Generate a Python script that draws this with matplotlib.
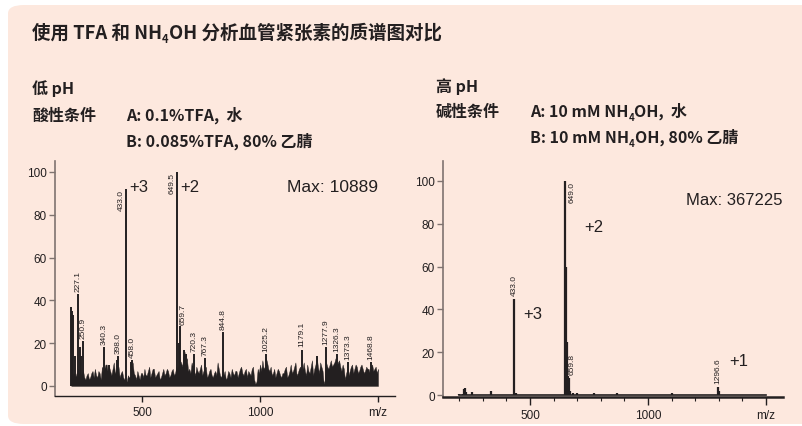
import numpy as np
import matplotlib
matplotlib.use("Agg")
import matplotlib.pyplot as plt
from matplotlib.patches import FancyBboxPatch

plt.rcParams['font.family'] = ['Liberation Sans', 'Noto Sans CJK SC', 'DejaVu Sans']
HEAD_FONT = ['Noto Sans CJK SC', 'DejaVu Sans']

# ── data ──────────────────────────────────────────────────────────────────
# low pH: noise floor read every 10 m/z (200..1500) and in between (205..1495)
low_noise_mz = np.arange(200, 1501, 10)
low_noise = [
    4, 6, 5, 8, 5, 7, 3, 6, 4, 7,          # 200-290
    8, 4, 6, 9, 8, 10, 9, 5, 11, 7,        # 300-390
    9, 6, 4, 3, 5, 4, 11, 5, 7, 3,         # 400-490
    6, 8, 5, 9, 6, 8, 5, 7, 4, 8,          # 500-590
    6, 7, 5, 8, 6, 7, 12, 9, 16, 13,       # 600-690
    8, 11, 7, 9, 6, 10, 7, 9, 5, 8,        # 700-790
    4, 7, 11, 5, 6, 7, 4, 6, 8, 5,         # 800-890
    7, 6, 9, 5, 8, 7, 5, 9, 1, 8,          # 900-990
    10, 12, 9, 11, 7, 5, 8, 6, 7, 4,       # 1000-1090
    6, 9, 5, 10, 7, 11, 6, 9, 8, 7,        # 1100-1190
    10, 6, 12, 8, 14, 6, 9, 1, 11, 8,      # 1200-1290
    12, 10, 13, 11, 9, 10, 3, 8, 7, 10,    # 1300-1390
    8, 9, 7, 10, 6, 9, 8, 9, 7, 9,         # 1400-1490
    8,                                     # 1500
]
low_noise_mid_mz = np.arange(205, 1500, 10)
low_noise_mid = [
    3, 4, 7, 3, 6, 4, 5, 3, 6, 4,          # 205-295
    5, 7, 3, 6, 10, 6, 7, 8, 6, 5,         # 305-395
    4, 7, 3, 2, 4, 7, 6, 3, 5, 6,          # 405-495
    4, 5, 7, 4, 8, 4, 6, 3, 6, 5,          # 505-595
    8, 4, 7, 5, 9, 10, 11, 14, 10, 7,      # 605-695
    6, 9, 5, 7, 8, 5, 6, 4, 7, 5,          # 705-795
    6, 5, 8, 4, 5, 3, 7, 4, 6, 7,          # 805-895
    4, 8, 6, 7, 4, 6, 8, 3, 2, 6,          # 905-995
    7, 8, 13, 8, 9, 6, 4, 8, 5, 6,         # 1005-1095
    8, 4, 7, 6, 9, 5, 8, 7, 11, 5,         # 1105-1195
    7, 9, 5, 10, 9, 11, 7, 3, 9, 10,       # 1205-1295
    9, 11, 9, 12, 7, 8, 6, 5, 9, 6,        # 1305-1395
    10, 6, 9, 8, 7, 8, 6, 10, 8, 6,        # 1405-1495
]
low_peak_mz = [199, 203, 207, 215, 227.1, 236, 243, 250.9, 340.3, 360, 392, 398.0,
               433.0, 452, 458.0, 649.5, 655, 659.7, 677, 688, 720.3, 767.3,
               844.8, 1025.2, 1179.1, 1240, 1277.9, 1326.3, 1373.3, 1468.8]
low_peak_int = [37, 35, 33, 14, 43, 18, 14, 21, 18, 10, 12, 14,
                92, 11, 12, 100, 20, 28, 17, 15, 15, 13,
                25, 15, 17, 14, 18, 15, 11, 11]
low_labels_top = ['227.1', '250.9', '340.3', '398.0', '458.0', '659.7', '720.3', '767.3',
                  '844.8', '1025.2', '1179.1', '1277.9', '1326.3', '1373.3', '1468.8']
low_labels_side = ['433.0', '649.5']

high_mz = [200, 215, 222, 226, 230, 255, 335, 433.0, 440, 649.0, 652, 655,
           659.8, 663, 668, 680, 700, 770, 870, 1100, 1296.6, 1300]
high_int = [0.4, 0.6, 2.8, 3.2, 1.5, 1.3, 1.8, 45, 1.2, 100, 60, 25,
            9, 8, 2, 1.2, 0.8, 0.9, 0.8, 0.9, 4, 2]
high_labels = ['433.0', '649.0', '659.8', '1296.6']

y_ticks = [0, 20, 40, 60, 80, 100]
x_ticks = [500, 1000, 1500]
x_ticklabels = ['500', '1000', 'm/z']

INK = '#231f20'
BG = '#fde8de'
W, H = 802, 427

fig = plt.figure(figsize=(8.02, 4.27), dpi=100)
fig.patch.set_facecolor('white')
fig.patches.append(FancyBboxPatch((8 / W, 2 / H), 820 / W, 419 / H,
                                  boxstyle='round,pad=0,rounding_size=0.02',
                                  transform=fig.transFigure, facecolor=BG,
                                  edgecolor='none', zorder=-5))


def runs(x, y, parts):
    """Write text pieces one after another (x, y in pixels from top-left)."""
    r = fig.canvas.get_renderer()
    xf = x / W
    for s, fs, dy in parts:
        t = fig.text(xf, 1 - (y + dy) / H, s, fontsize=fs, va='baseline',
                     ha='left', color=INK, fontweight='bold', family=HEAD_FONT)
        xf += t.get_window_extent(r).width / fig.bbox.width


runs(32, 39, [('使用 TFA 和 NH', 13.3, 0), ('4', 8, 4), ('OH 分析血管紧张素的质谱图对比', 13.3, 0)])
runs(32, 94, [('低 pH', 11.5, 0)])
runs(32, 121, [('酸性条件', 11.5, 0)])
runs(126, 121, [('A: 0.1%TFA,  水', 11.5, 0)])
runs(126, 147, [('B: 0.085%TFA, 80% 乙腈', 11.5, 0)])
runs(436, 92, [('高 pH', 11.5, 0)])
runs(436, 117, [('碱性条件', 11.5, 0)])
runs(530, 117, [('A: 10 mM NH', 11.5, 0), ('4', 7, 4), ('OH,  水', 11.5, 0)])
runs(530, 143, [('B: 10 mM NH', 11.5, 0), ('4', 7, 4), ('OH, 80% 乙腈', 11.5, 0)])


def style(ax, ylim, xlw):
    ax.set_facecolor('none')
    ax.set_xlim(131, 1572)
    ax.set_ylim(*ylim)
    for s in ('top', 'right'):
        ax.spines[s].set_visible(False)
    ax.spines['left'].set_color('#7f7370')
    ax.spines['left'].set_linewidth(1.2)
    ax.spines['bottom'].set_color(INK)
    ax.spines['bottom'].set_linewidth(xlw)
    ax.set_yticks(y_ticks)
    ax.set_xticks(x_ticks)
    ax.set_xticklabels(x_ticklabels)
    ax.tick_params(axis='y', length=4, width=1, color='#7f7370', pad=2,
                   labelsize=8.5, labelcolor=INK)
    ax.tick_params(axis='x', length=4, width=1, color=INK, pad=3,
                   labelsize=8.5, labelcolor=INK)


# ── low pH panel ─────────────────────────────────────────────────────────
ax1 = fig.add_axes([55 / W, 1 - 397 / H, 340 / W, 235 / H])
style(ax1, (-4.7, 105.1), 1.0)
noise_x = np.concatenate([low_noise_mz, low_noise_mid_mz])
noise_y = np.concatenate([low_noise, low_noise_mid])
order = np.argsort(noise_x)
ax1.fill_between(noise_x[order], 0, noise_y[order], color=INK, linewidth=0.3)
ax1.vlines(low_peak_mz, 0, low_peak_int, color=INK, linewidth=1.4)
for mz, v in zip(low_peak_mz, low_peak_int):
    lab = f'{mz:.1f}'
    if lab == '659.7':
        ax1.text(mz + 16, v + 1, lab, rotation=90, ha='center', va='bottom',
                 fontsize=6, color=INK)
    elif lab in low_labels_top:
        ax1.text(mz, v + 1.5, lab, rotation=90, ha='center', va='bottom',
                 fontsize=6, color=INK)
    elif lab in low_labels_side:
        ax1.text(mz - 8, v, lab, rotation=90, ha='right', va='top',
                 fontsize=6, color=INK)
ax1.text(445, 93, '+3', fontsize=12, va='center', ha='left', color=INK)
ax1.text(662, 93, '+2', fontsize=12, va='center', ha='left', color=INK)
ax1.text(1500, 93, 'Max: 10889', fontsize=12.5, va='center', ha='right', color=INK)

# ── high pH panel ────────────────────────────────────────────────────────
ax2 = fig.add_axes([443 / W, 1 - 398 / H, 340 / W, 236 / H])
style(ax2, (-0.9, 109.3), 1.8)
ax2.set_xticks(range(200, 1500, 100), minor=True)
ax2.tick_params(axis='x', which='major', length=6)
ax2.tick_params(axis='x', which='minor', length=3, width=0.8, color=INK)
ax2.axhline(0.25, xmin=(200 - 131) / 1441, xmax=(1500 - 131) / 1441,
            color=INK, linewidth=1.2)
ax2.vlines(high_mz, 0, high_int, color=INK, linewidth=1.6)
for mz, v in zip(high_mz, high_int):
    lab = f'{mz:.1f}'
    if lab == '649.0':
        ax2.text(mz + 16, v, lab, rotation=90, ha='left', va='top', fontsize=6, color=INK)
    elif lab == '659.8':
        ax2.text(mz + 3, v + 1, lab, rotation=90, ha='left', va='bottom', fontsize=6, color=INK)
    elif lab in high_labels:
        ax2.text(mz, v + 1.5, lab, rotation=90, ha='center', va='bottom', fontsize=6, color=INK)
ax2.text(513, 38, '+3', fontsize=12, va='center', ha='center', color=INK)
ax2.text(770, 78.5, '+2', fontsize=12, va='center', ha='center', color=INK)
ax2.text(1385, 16, '+1', fontsize=12, va='center', ha='center', color=INK)
ax2.text(1572, 91.5, 'Max: 367225', fontsize=12, va='center', ha='right', color=INK)

fig.savefig('out.png', dpi=100, facecolor='white')
